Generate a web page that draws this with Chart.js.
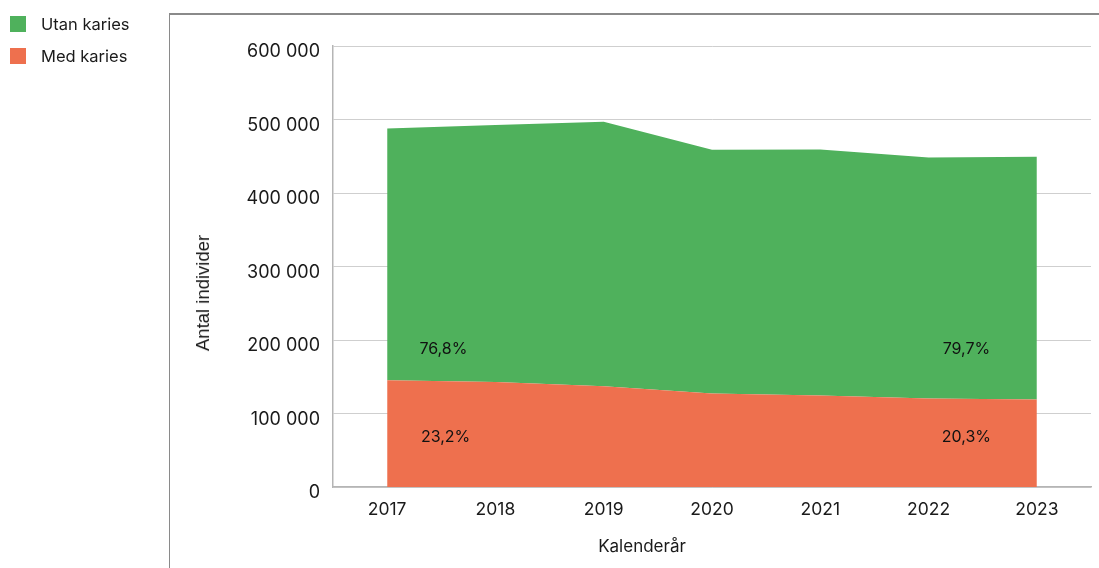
<!DOCTYPE html>
<html>
<head>
<meta charset="utf-8">
<script src="https://cdn.jsdelivr.net/npm/chart.js@4/dist/chart.umd.min.js"></script>
<style>
  html, body { margin: 0; padding: 0; background: #fff; }
  body { width: 1099px; height: 568px; position: relative; overflow: hidden; font-family: Inter, "Open Sans", sans-serif; color: #1a1a1a; }
  #wrap { position: absolute; left: 0; top: 0; width: 1099px; height: 568px; }
  #frame { position: absolute; left: 169px; top: 13px; width: 940px; height: 600px; border-top: 2px solid #8a8a8a; border-left: 1.5px solid #8a8a8a; box-sizing: border-box; }
  .leg { position: absolute; left: 10px; font-size: 16.5px; line-height: 16px; }
  .leg span.sw { position: absolute; left: 0; top: 0; width: 16px; height: 16px; }
  .leg span.tx { position: absolute; left: 31px; top: 0; white-space: nowrap; }
  #ytitle { position: absolute; left: 203px; top: 293px; transform: translate(-50%, -50%) rotate(-90deg); font-family: "Liberation Sans", Arial, sans-serif; font-size: 18.5px; white-space: nowrap; }
  #xtitle { position: absolute; left: 642px; top: 546px; transform: translate(-50%, -50%); font-size: 17px; white-space: nowrap; }
</style>
</head>
<body>
<div id="frame"></div>
<div id="wrap"><canvas id="c" width="1099" height="568"></canvas></div>
<div class="leg" id="leg0" style="top:16px"><span class="sw"></span><span class="tx"></span></div>
<div class="leg" id="leg1" style="top:48px"><span class="sw"></span><span class="tx"></span></div>
<div id="ytitle">Antal individer</div>
<div id="xtitle">Kalenderår</div>
<script>
// ---- data ----
const years = ['2017', '2018', '2019', '2020', '2021', '2022', '2023'];
const medKaries = [145400, 142700, 137200, 127300, 124600, 120500, 119100];
const utanKaries = [342500, 349900, 359900, 331600, 334700, 327900, 330300];
const seriesNames = ['Utan karies', 'Med karies'];
const utanPctLabels = ['76,8%', '79,7%'];
const medPctLabels = ['23,2%', '20,3%'];
const yTicks = [0, 100000, 200000, 300000, 400000, 500000, 600000];

// ---- style ----
const GREEN = '#4fb15c';
const RED = '#ee704e';
const FONT = 'Inter, "Open Sans", sans-serif';

// legend (HTML)
const legColors = [GREEN, RED];
seriesNames.forEach((n, i) => {
  const el = document.getElementById('leg' + i);
  el.querySelector('.sw').style.background = legColors[i];
  el.querySelector('.tx').textContent = n;
});

function fmt(v) {
  return String(v).replace(/\B(?=(\d{3})+(?!\d))/g, ' ');
}

// anchor positions for the percentage annotations (category index, value)
const labelAnchors = [
  { idx: 0.52, val: 188000 },
  { idx: 5.35, val: 188000 },
  { idx: 0.54, val: 67500 },
  { idx: 5.35, val: 67500 }
];

const pctPlugin = {
  id: 'pctLabels',
  afterDatasetsDraw(chart) {
    const { ctx, scales } = chart;
    const texts = [utanPctLabels[0], utanPctLabels[1], medPctLabels[0], medPctLabels[1]];
    ctx.save();
    ctx.font = '16px ' + FONT;
    ctx.fillStyle = '#111';
    ctx.textAlign = 'center';
    ctx.textBaseline = 'middle';
    texts.forEach((t, i) => {
      const a = labelAnchors[i];
      ctx.fillText(t, scales.x.getPixelForValue(a.idx), scales.y.getPixelForValue(a.val));
    });
    ctx.restore();
  }
};

new Chart(document.getElementById('c'), {
  type: 'line',
  data: {
    labels: years,
    datasets: [
      {
        label: seriesNames[1],
        data: medKaries,
        backgroundColor: RED,
        borderWidth: 0,
        pointRadius: 0,
        fill: 'origin',
        tension: 0
      },
      {
        label: seriesNames[0],
        data: utanKaries,
        backgroundColor: GREEN,
        borderWidth: 0,
        pointRadius: 0,
        fill: '-1',
        tension: 0
      }
    ]
  },
  options: {
    responsive: false,
    animation: false,
    devicePixelRatio: 1,
    layout: { padding: { top: 46, right: 8, left: 0, bottom: 0 } },
    plugins: {
      legend: { display: false },
      tooltip: { enabled: false },
      title: { display: false }
    },
    scales: {
      x: {
        offset: true,
        grid: { display: false, drawTicks: false },
        border: { display: true, color: '#b5b5b5', width: 1.5 },
        ticks: { color: '#1a1a1a', font: { family: FONT, size: 17.5 }, padding: 12, maxRotation: 0 },
        afterFit(s) { s.height = 81; }
      },
      y: {
        stacked: true,
        min: 0,
        max: 600000,
        afterBuildTicks(s) { s.ticks = yTicks.map(v => ({ value: v })); },
        grid: { color: '#cfcfcf', lineWidth: 1, drawTicks: false },
        border: { display: true, color: '#b5b5b5', width: 1.5 },
        ticks: {
          color: '#1a1a1a',
          font: { family: FONT, size: 18 },
          padding: 13,
          labelOffset: 6,
          callback: v => fmt(v)
        },
        afterFit(s) { s.width = 333; }
      }
    }
  },
  plugins: [pctPlugin]
});
</script>
</body>
</html>
